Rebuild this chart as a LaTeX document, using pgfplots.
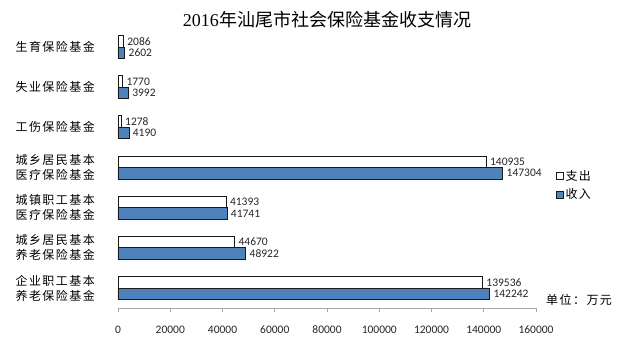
\documentclass[border=0pt]{standalone}
\usepackage{fontspec}
\setmainfont{Liberation Serif}
\newfontfamily\cjk{Noto Sans CJK SC}
\newfontfamily\cjkl[LetterSpace=12]{Noto Sans CJK SC}
\newfontfamily\lbl{Carlito}
\usepackage{pgfplots}
\pgfplotsset{compat=1.18}
\definecolor{barblue}{HTML}{4F81BD}
\definecolor{axisgray}{HTML}{A6A6A6}
\begin{document}
\begin{tikzpicture}
\useasboundingbox (0pt,0pt) rectangle (629pt,354pt);
\begin{axis}[
  at={(118pt,46pt)}, anchor=south west,
  width=418pt, height=281pt, scale only axis,
  xbar=0pt, bar width=11.5pt,
  xmin=0, xmax=160000, ymin=-0.5, ymax=6.5,
  xtick={0,20000,40000,60000,80000,100000,120000,140000,160000},
  scaled x ticks=false,
  /pgf/number format/fixed,
  /pgf/number format/precision=0,
  /pgf/number format/1000 sep={},
  /pgf/number format/assume math mode=true,
  ytick={0,1,2,3,4,5,6},
  yticklabels={{企业职工基本\\养老保险基金},{城乡居民基本\\养老保险基金},{城镇职工基本\\医疗保险基金},{城乡居民基本\\医疗保险基金},{工伤保险基金},{失业保险基金},{生育保险基金}},
  axis x line*=bottom, axis y line*=left,
  y axis line style={draw=none},
  ytick style={draw=none},
  x axis line style={draw=axisgray, line width=0.6pt},
  xtick style={draw=axisgray, line width=0.6pt},
  tick align=outside, major tick length=4pt,
  x tick label style={font=\lbl\fontsize{11.5}{13}\selectfont, text=black!85, anchor=north, text height=8pt, text depth=0pt, yshift=-10pt},
  y tick label style={font=\fontsize{12}{15}\selectfont\cjkl, align=center, inner sep=0pt, xshift=-19pt},
  title={{\fontsize{18}{20}\selectfont 2016\cjk 年汕尾市社会保险基金收支情况}},
  title style={at={(axis description cs:0.5,1)}, anchor=center, yshift=1pt},
  point meta=x,
  nodes near coords={\pgfmathprintnumber[fixed,precision=0,1000 sep={},assume math mode=true]{\pgfplotspointmeta}},
  every node near coord/.append style={anchor=west, font=\lbl\fontsize{11.5}{13}\selectfont, text=black!85, xshift=1.5pt, inner sep=2pt},
  legend image code/.code={\draw[#1] (0pt,-3.5pt) rectangle (7pt,3.5pt);},
  reverse legend,
  legend style={at={(axis description cs:1.048,0.4967)}, anchor=north west, draw=none, fill=none,
    font=\fontsize{12}{14}\selectfont\cjkl, inner sep=0pt, row sep=4pt,
    nodes={inner sep=1.5pt}},
  legend cell align=left,
]
\addplot[fill=barblue, draw=black!90, line width=0.8pt] coordinates {
  (142242,0) (48922,1) (41741,2) (147304,3) (4190,4) (3992,5) (2602,6)};
\addlegendentry{收入}
\addplot[fill=white, draw=black!90, line width=0.8pt] coordinates {
  (139536,0) (44670,1) (41393,2) (140935,3) (1278,4) (1770,5) (2086,6)};
\addlegendentry{支出}
\end{axis}
\node[anchor=west, font=\fontsize{12}{14}\selectfont\cjkl, inner sep=0pt] at (546pt,54pt) {单位：万元};
\end{tikzpicture}
\end{document}
